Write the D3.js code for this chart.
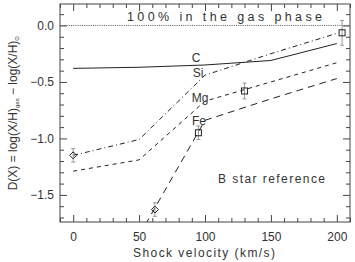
<!DOCTYPE html>
<html>
<head>
<meta charset="utf-8">
<script src="https://cdn.jsdelivr.net/npm/d3@7"></script>
<style>
  body { margin: 0; background: #fff; }
  svg { font-family: "Liberation Sans", Arial, sans-serif; }
  .axis path { display: none; }
  .axis line { stroke: #444; }
  .axis text { fill: #333; font-size: 12px; }
</style>
</head>
<body>
<div id="chart"></div>
<script>
var width = 355, height = 262;

// model grid (shock velocity, km/s)
var velocity = [0, 50, 100, 150, 200];
var depletionC  = [-0.38, -0.37, -0.35, -0.31, -0.16];
var depletionSi = [-1.15, -1.01, -0.44, -0.25, -0.07];
var depletionMg = [-1.29, -1.19, -0.67, -0.50, -0.33];
var depletionFe = [-2.10, -1.86, -0.84, -0.65, -0.47];

// observed points
var diamonds = [{v: 0, d: -1.15, e: 0.06}, {v: 62, d: -1.63, e: 0.06}];
var squares  = [{v: 95, d: -0.95, e: 0.06}, {v: 130, d: -0.58, e: 0.07}, {v: 204, d: -0.065, e: 0.11}];

var xMajor = [0, 50, 100, 150, 200];
var yMajor = [-1.5, -1.0, -0.5, 0.0];

var svg = d3.select("#chart").append("svg")
    .attr("width", width)
    .attr("height", height);

var x = d3.scaleLinear().domain([-10, 210]).range([60, 350]);
var y = d3.scaleLinear().domain([-1.74, 0.19]).range([222, 4]);

var minus = function(d) { return d3.format(".1f")(d).replace("-", "\u2212"); };
var xMinor = d3.range(-10, 211, 10).filter(function(d) { return xMajor.indexOf(d) < 0; });
var yMinor = d3.range(-17, 2, 1).map(function(d) { return d / 10; })
    .filter(function(d) { return Math.abs(d * 2 - Math.round(d * 2)) > 0.01; });

// axes, ticks pointing inward
svg.append("g").attr("class", "axis").attr("transform", "translate(0,222)")
   .call(d3.axisBottom(x).tickValues(xMajor).tickSize(-7).tickPadding(10).tickFormat(d3.format("d")));
svg.append("g").attr("class", "axis").attr("transform", "translate(0,222)")
   .call(d3.axisBottom(x).tickValues(xMinor).tickSize(-4).tickFormat(""));
svg.append("g").attr("class", "axis").attr("transform", "translate(0,4)")
   .call(d3.axisTop(x).tickValues(xMajor).tickSize(-7).tickFormat(""));
svg.append("g").attr("class", "axis").attr("transform", "translate(0,4)")
   .call(d3.axisTop(x).tickValues(xMinor).tickSize(-4).tickFormat(""));

svg.append("g").attr("class", "axis").attr("transform", "translate(60,0)")
   .call(d3.axisLeft(y).tickValues(yMajor).tickSize(-7).tickPadding(6).tickFormat(minus));
svg.append("g").attr("class", "axis").attr("transform", "translate(60,0)")
   .call(d3.axisLeft(y).tickValues(yMinor).tickSize(-4).tickFormat(""));
svg.append("g").attr("class", "axis").attr("transform", "translate(350,0)")
   .call(d3.axisRight(y).tickValues(yMajor).tickSize(-7).tickFormat(""));
svg.append("g").attr("class", "axis").attr("transform", "translate(350,0)")
   .call(d3.axisRight(y).tickValues(yMinor).tickSize(-4).tickFormat(""));

// frame
svg.append("rect")
   .attr("x", 60).attr("y", 4)
   .attr("width", 290).attr("height", 218)
   .attr("fill", "none").attr("stroke", "#444").attr("stroke-width", 1);

svg.append("clipPath").attr("id", "plotclip")
   .append("rect").attr("x", 60).attr("y", 4).attr("width", 290).attr("height", 218);

var plot = svg.append("g").attr("clip-path", "url(#plotclip)");

// 100% line
plot.append("line")
    .attr("x1", 60).attr("x2", 350)
    .attr("y1", y(0)).attr("y2", y(0))
    .attr("stroke", "#555").attr("stroke-dasharray", "1,1.2");

var line = d3.line()
    .x(function(d, i) { return x(velocity[i]); })
    .y(function(d) { return y(d); });

var series = [
  {vals: depletionC,  dash: null},
  {vals: depletionSi, dash: "5,3,1,3"},
  {vals: depletionMg, dash: "4,4"},
  {vals: depletionFe, dash: "7,5"}
];

plot.selectAll("path.model")
    .data(series)
    .enter()
    .append("path")
    .attr("class", "model")
    .attr("d", function(d) { return line(d.vals); })
    .attr("fill", "none")
    .attr("stroke", "#222")
    .attr("stroke-width", 1)
    .attr("stroke-dasharray", function(d) { return d.dash; });

// error bars
var allPoints = diamonds.concat(squares);
var bars = plot.selectAll("g.err").data(allPoints).enter().append("g").attr("class", "err");
bars.append("line")
    .attr("x1", function(d) { return x(d.v); })
    .attr("x2", function(d) { return x(d.v); })
    .attr("y1", function(d) { return y(d.d - d.e); })
    .attr("y2", function(d) { return y(d.d + d.e); })
    .attr("stroke", "#999");
[-1, 1].forEach(function(s) {
  bars.append("line")
      .attr("x1", function(d) { return x(d.v) - 2; })
      .attr("x2", function(d) { return x(d.v) + 2; })
      .attr("y1", function(d) { return y(d.d + s * d.e); })
      .attr("y2", function(d) { return y(d.d + s * d.e); })
      .attr("stroke", "#999");
});

plot.selectAll("path.diamond")
    .data(diamonds)
    .enter()
    .append("path")
    .attr("class", "diamond")
    .attr("d", function(d) {
      var cx = x(d.v), cy = y(d.d), r = 3.5;
      return "M" + cx + "," + (cy - r) + "L" + (cx + r) + "," + cy + "L" + cx + "," + (cy + r) + "L" + (cx - r) + "," + cy + "Z";
    })
    .attr("fill", "none")
    .attr("stroke", "#222");

plot.selectAll("rect.square")
    .data(squares)
    .enter()
    .append("rect")
    .attr("class", "square")
    .attr("x", function(d) { return x(d.v) - 3; })
    .attr("y", function(d) { return y(d.d) - 3; })
    .attr("width", 6).attr("height", 6)
    .attr("fill", "none")
    .attr("stroke", "#222");

// element labels
var labels = [
  {t: "C",  x: 196, y: 61.5},
  {t: "Si", x: 198, y: 77},
  {t: "Mg", x: 200, y: 101.5},
  {t: "Fe", x: 199, y: 125}
];
svg.selectAll("text.el")
   .data(labels)
   .enter()
   .append("text")
   .attr("class", "el")
   .attr("x", function(d) { return d.x; })
   .attr("y", function(d) { return d.y; })
   .attr("text-anchor", "middle")
   .attr("font-size", "12px")
   .attr("fill", "#333")
   .text(function(d) { return d.t; });

svg.append("text")
   .attr("x", 127).attr("y", 21)
   .attr("font-size", "12.5px").attr("fill", "#333")
   .attr("textLength", 195).attr("lengthAdjust", "spacing")
   .text("100% in the gas phase");

svg.append("text")
   .attr("x", 218).attr("y", 183)
   .attr("font-size", "12px").attr("fill", "#333")
   .attr("textLength", 107).attr("lengthAdjust", "spacing")
   .text("B star reference");

svg.append("text")
   .attr("x", 133).attr("y", 257)
   .attr("font-size", "12px").attr("fill", "#333")
   .attr("textLength", 142).attr("lengthAdjust", "spacing")
   .text("Shock velocity (km/s)");

// y label
var yl = svg.append("text")
   .attr("transform", "translate(17,113) rotate(-90)")
   .attr("text-anchor", "middle")
   .attr("font-size", "12px").attr("fill", "#333");
yl.append("tspan").text("D(X) = log(X/H)");
yl.append("tspan").attr("font-size", "6px").attr("dy", 2).text("gas");
yl.append("tspan").attr("dy", -2).text(" \u2212 log(X/H)");
yl.append("tspan").attr("font-size", "6px").attr("dy", 2).text("\u2299");
</script>
</body>
</html>
